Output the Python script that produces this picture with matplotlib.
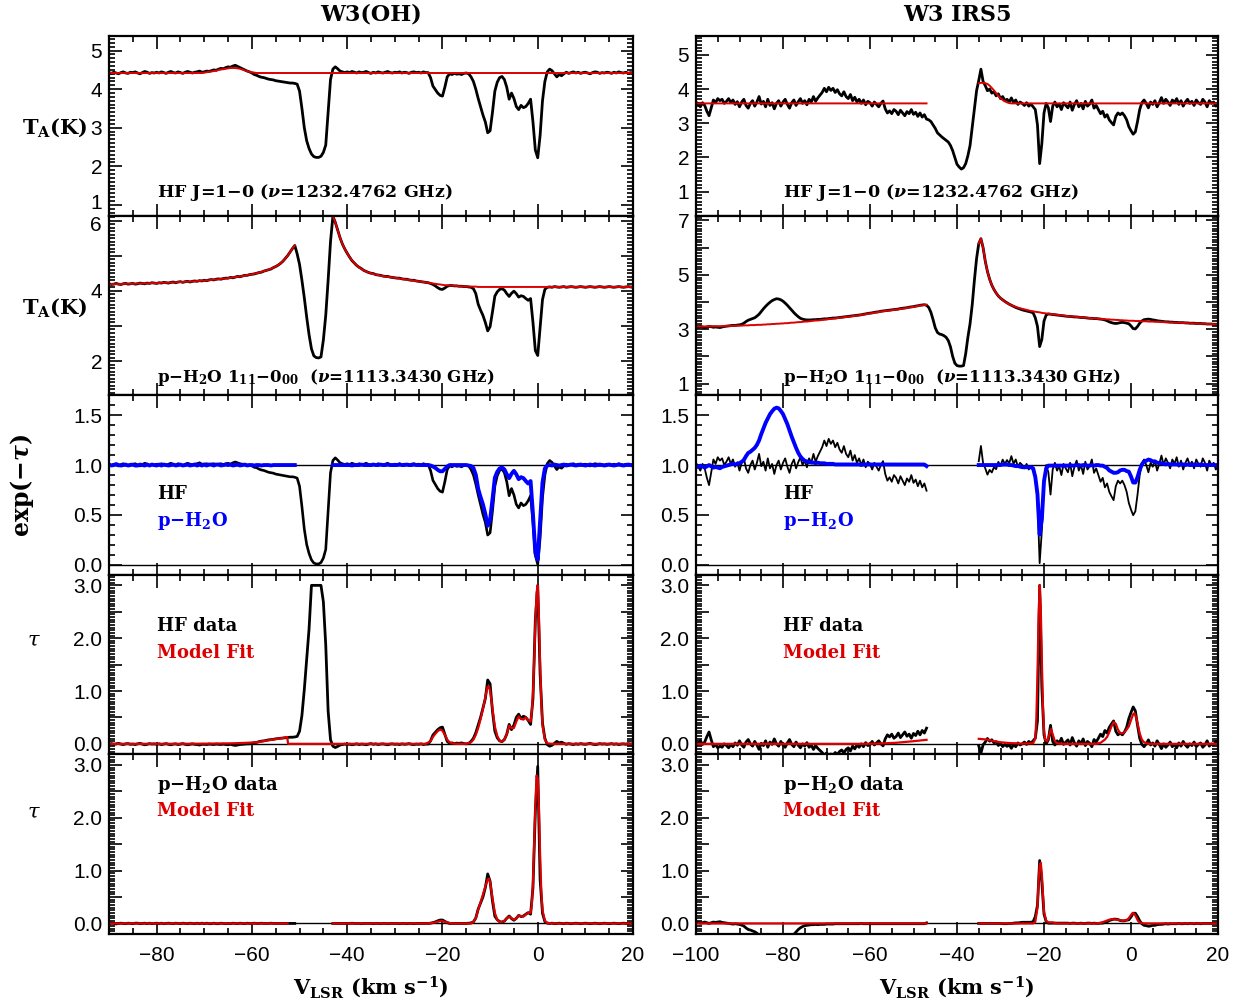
import numpy as np
import matplotlib
matplotlib.use("Agg")
import matplotlib.pyplot as plt
import matplotlib.transforms as mtrans
from matplotlib.ticker import MultipleLocator, FixedLocator, FuncFormatter

plt.rcParams['font.family'] = ['Liberation Sans', 'DejaVu Sans']
plt.rcParams['mathtext.fontset'] = 'custom'
plt.rcParams['mathtext.rm'] = 'DejaVu Serif:bold'
plt.rcParams['mathtext.it'] = 'DejaVu Serif:italic:bold'
plt.rcParams['mathtext.bf'] = 'DejaVu Serif:bold'

# ---------------------------------------------------------------- channels
V_W3OH = np.arange(-90.0, 20.01, 0.5)    # 221 channels, km/s
V_IRS5 = np.arange(-100.0, 20.01, 0.5)   # 241 channels, km/s
nan = np.nan

# ---------------------------------------------------------------- W3(OH)
# HF J=1-0 antenna temperature (K)
HF_W3OH = [
    4.43, 4.41, 4.44, 4.42, 4.40, 4.43, 4.45, 4.42, 4.41, 4.44,
    4.43, 4.45, 4.42, 4.40, 4.43, 4.46, 4.44, 4.41, 4.43, 4.42,
    4.44, 4.42, 4.45, 4.43, 4.41, 4.44, 4.46, 4.43, 4.42, 4.45,
    4.43, 4.41, 4.44, 4.46, 4.44, 4.42, 4.44, 4.45, 4.47, 4.44,
    4.45, 4.47, 4.46, 4.48, 4.50, 4.49, 4.52, 4.54, 4.53, 4.56,
    4.58, 4.57, 4.60, 4.62, 4.59, 4.56, 4.53, 4.50, 4.47, 4.45,
    4.42, 4.38, 4.36, 4.33, 4.31, 4.30, 4.28, 4.26, 4.25, 4.24,
    4.22, 4.21, 4.20, 4.19, 4.18, 4.17, 4.16, 4.16, 4.15, 4.13,
    3.95, 3.50, 3.00, 2.66, 2.46, 2.32, 2.25, 2.23, 2.23, 2.26,
    2.36, 2.55, 3.40, 4.25, 4.52, 4.58, 4.53, 4.47, 4.45, 4.43,
    4.45, 4.43, 4.46, 4.44, 4.42, 4.45, 4.43, 4.44, 4.46, 4.43,
    4.41, 4.44, 4.42, 4.45, 4.43, 4.42, 4.44, 4.46, 4.43, 4.42,
    4.44, 4.43, 4.45, 4.42, 4.44, 4.43, 4.41, 4.44, 4.45, 4.43,
    4.44, 4.42, 4.45, 4.43, 4.43, 4.30, 4.08, 3.99, 3.90, 3.84,
    3.82, 4.05, 4.32, 4.40, 4.38, 4.41, 4.39, 4.40, 4.38, 4.41,
    4.42, 4.40, 4.32, 4.20, 4.00, 3.76, 3.55, 3.33, 3.15, 2.87,
    2.92, 3.40, 3.95, 4.18, 4.30, 4.33, 4.25, 4.05, 3.74, 3.90,
    3.76, 3.55, 3.47, 3.58, 3.52, 3.55, 3.63, 3.74, 3.15, 2.42,
    2.22, 2.80, 3.70, 4.20, 4.45, 4.52, 4.48, 4.40, 4.32, 4.38,
    4.35, 4.40, 4.44, 4.41, 4.43, 4.45, 4.42, 4.44, 4.41, 4.43,
    4.44, 4.42, 4.40, 4.43, 4.45, 4.44, 4.41, 4.43, 4.42, 4.44,
    4.43, 4.41, 4.44, 4.42, 4.45, 4.43, 4.42, 4.44, 4.41, 4.43, 4.42,
]
# HF continuum fit (K)
HF_CONT_W3OH = (
    [4.42] * 40
    + [4.43, 4.44, 4.45, 4.46, 4.47, 4.48, 4.50, 4.51, 4.52, 4.53,
       4.54, 4.55, 4.55, 4.55, 4.54, 4.53, 4.51, 4.49, 4.47, 4.45,
       4.44, 4.43]
    + [4.42] * 159
)
# p-H2O 1_11-0_00 antenna temperature (K)
H2O_W3OH = [
    4.20, 4.18, 4.19, 4.21, 4.19, 4.18, 4.20, 4.21, 4.19, 4.20,
    4.21, 4.19, 4.20, 4.22, 4.21, 4.20, 4.22, 4.21, 4.23, 4.22,
    4.21, 4.23, 4.22, 4.24, 4.23, 4.22, 4.24, 4.25, 4.23, 4.25,
    4.26, 4.24, 4.26, 4.27, 4.25, 4.27, 4.28, 4.27, 4.29, 4.28,
    4.30, 4.29, 4.31, 4.32, 4.31, 4.33, 4.34, 4.33, 4.35, 4.36,
    4.36, 4.38, 4.37, 4.39, 4.41, 4.40, 4.42, 4.44, 4.44, 4.46,
    4.47, 4.48, 4.50, 4.52, 4.53, 4.56, 4.58, 4.60, 4.62, 4.66,
    4.69, 4.73, 4.78, 4.84, 4.92, 5.00, 5.10, 5.20, 5.29, 5.05,
    4.75, 4.30, 3.80, 3.25, 2.75, 2.35, 2.15, 2.10, 2.09, 2.12,
    2.60, 3.30, 4.30, 5.40, 6.12, 5.95, 5.73, 5.51, 5.33, 5.19,
    5.07, 4.96, 4.86, 4.79, 4.72, 4.67, 4.63, 4.58, 4.55, 4.52,
    4.50, 4.49, 4.46, 4.45, 4.44, 4.42, 4.41, 4.41, 4.39, 4.38,
    4.37, 4.36, 4.36, 4.34, 4.33, 4.33, 4.31, 4.30, 4.30, 4.28,
    4.27, 4.26, 4.25, 4.24, 4.23, 4.21, 4.18, 4.14, 4.09, 4.05,
    4.04, 4.08, 4.13, 4.15, 4.15, 4.14, 4.14, 4.13, 4.13, 4.12,
    4.12, 4.11, 4.10, 4.06, 3.92, 3.62, 3.45, 3.30, 3.10, 2.86,
    2.98, 3.40, 3.85, 3.97, 4.04, 4.06, 4.02, 3.92, 3.84, 3.93,
    3.99, 3.92, 3.82, 3.86, 3.84, 3.78, 3.73, 3.78, 3.10, 2.30,
    2.16, 2.95, 3.75, 4.04, 4.10, 4.11, 4.10, 4.12, 4.11, 4.10,
    4.11, 4.12, 4.10, 4.11, 4.12, 4.11, 4.10, 4.11, 4.12, 4.11,
    4.10, 4.11, 4.12, 4.11, 4.10, 4.11, 4.12, 4.11, 4.10, 4.11,
    4.12, 4.11, 4.10, 4.11, 4.12, 4.11, 4.10, 4.11, 4.12, 4.11, 4.10,
]
# p-H2O continuum + emission fit (K); undefined across the deep absorption
H2O_CONT_W3OH = (
    [4.19, 4.19, 4.19, 4.19, 4.19, 4.19, 4.20, 4.20, 4.20, 4.20,
     4.20, 4.20, 4.21, 4.21, 4.21, 4.21, 4.21, 4.22, 4.22, 4.22,
     4.22, 4.22, 4.23, 4.23, 4.23, 4.23, 4.24, 4.24, 4.24, 4.25,
     4.25, 4.25, 4.26, 4.26, 4.26, 4.27, 4.27, 4.28, 4.28, 4.29,
     4.29, 4.30, 4.30, 4.31, 4.32, 4.32, 4.33, 4.34, 4.35, 4.35,
     4.36, 4.37, 4.38, 4.39, 4.40, 4.41, 4.42, 4.43, 4.45, 4.46,
     4.47, 4.49, 4.50, 4.52, 4.54, 4.56, 4.58, 4.60, 4.63, 4.66,
     4.69, 4.73, 4.78, 4.84, 4.92, 5.00, 5.10, 5.20, 5.29, nan]
    + [nan] * 14
    + [6.12, 5.95, 5.73, 5.51, 5.33, 5.19,
       5.07, 4.96, 4.87, 4.79, 4.72, 4.67, 4.62, 4.58, 4.55, 4.52,
       4.50, 4.48, 4.46, 4.45, 4.43, 4.42, 4.41, 4.40, 4.39, 4.38,
       4.37, 4.36, 4.35, 4.34, 4.33, 4.32, 4.31, 4.30, 4.29, 4.28,
       4.27, 4.26, 4.25, 4.24, 4.23, 4.22, 4.21, 4.20, 4.19, 4.18,
       4.17, 4.16, 4.16, 4.15, 4.15, 4.14, 4.14, 4.13, 4.13, 4.12,
       4.12, 4.12, 4.12, 4.12, 4.12, 4.11, 4.11, 4.11, 4.11, 4.11]
    + [4.11] * 61
)
# optical-depth model fits
HF_FIT_V_W3OH = [-90, -75, -68, -64, -61, -59, -57, -55, -53.5, -52.6, -52.4,
                 -43, -30, -23.5, -22.5, -22, -21.5, -21, -20.5, -20, -19.5,
                 -19, -18.5, -18, -17, -15, -14, -13.5, -13, -12.5, -12, -11.5,
                 -11, -10.75, -10.5, -10.25, -10, -9.75, -9.5, -9, -8.5, -8,
                 -7.5, -7, -6.5, -6, -5.5, -5, -4.5, -4, -3.5, -3, -2.5, -2,
                 -1.5, -1.25, -1, -0.75, -0.5, -0.25, 0, 0.25, 0.5, 0.75, 1,
                 1.5, 2, 3, 20]
HF_FIT_TAU_W3OH = [0, 0, 0.005, 0.01, 0.02, 0.03, 0.06, 0.09, 0.11, 0.13, 0,
                   0, 0, 0, 0.05, 0.13, 0.19, 0.24, 0.27, 0.25, 0.17,
                   0.08, 0.03, 0.01, 0, 0, 0.03, 0.08, 0.17, 0.30, 0.47, 0.66,
                   0.88, 1.00, 1.08, 1.09, 1.00, 0.85, 0.66, 0.33, 0.15, 0.06,
                   0.04, 0.08, 0.18, 0.34, 0.30, 0.30, 0.42, 0.52, 0.47, 0.46,
                   0.50, 0.45, 0.42, 0.60, 0.95, 1.55, 2.30, 2.85, 3.00, 2.40,
                   1.50, 0.80, 0.35, 0.08, 0.01, 0, 0]
H2O_FIT_V_W3OH = [-90, -52.5, nan, -43, -23, -21.5, -20.3, -19, -18, -14,
                  -13.5, -13, -12.5, -12, -11.5, -11, -10.5, -10.25, -10,
                  -9.5, -9, -8.5, -8, -7.5, -7, -6.5, -6, -5.5, -5, -4.5, -4,
                  -3.5, -3, -2.5, -2, -1.5, -1.25, -1, -0.75, -0.5, -0.25, 0,
                  0.25, 0.5, 0.75, 1, 1.5, 2, 3, 20]
H2O_FIT_TAU_W3OH = [0, 0, nan, 0, 0, 0.02, 0.05, 0.02, 0, 0,
                    0.03, 0.10, 0.26, 0.40, 0.55, 0.70, 0.83, 0.85, 0.78,
                    0.48, 0.20, 0.07, 0.03, 0.03, 0.05, 0.10, 0.13, 0.10,
                    0.07, 0.10, 0.15, 0.14, 0.13, 0.17, 0.20, 0.20, 0.35,
                    0.75, 1.50, 2.20, 2.80, 2.75, 2.20, 1.30, 0.60, 0.25,
                    0.05, 0.01, 0, 0]

# ---------------------------------------------------------------- W3 IRS5
HF_IRS5 = [
    3.62, 3.55, 3.48, 3.60, 3.52, 3.35, 3.22, 3.45, 3.68, 3.60,
    3.72, 3.66, 3.70, 3.58, 3.64, 3.72, 3.60, 3.68, 3.55, 3.63,
    3.48, 3.62, 3.70, 3.52, 3.44, 3.58, 3.66, 3.50, 3.62, 3.78,
    3.56, 3.64, 3.48, 3.70, 3.52, 3.60, 3.42, 3.58, 3.66, 3.50,
    3.62, 3.70, 3.55, 3.44, 3.60, 3.68, 3.52, 3.63, 3.72, 3.58,
    3.66, 3.54, 3.70, 3.62, 3.78, 3.64, 3.74, 3.82, 3.90, 4.02,
    3.92, 4.05, 3.96, 4.02, 3.90, 3.98, 3.86, 3.80, 3.92, 3.78,
    3.72, 3.84, 3.66, 3.76, 3.62, 3.70, 3.58, 3.68, 3.54, 3.64,
    3.60, 3.50, 3.62, 3.55, 3.48, 3.58, 3.65, 3.42, 3.30, 3.36,
    3.28, 3.40, 3.35, 3.25, 3.38, 3.30, 3.22, 3.34, 3.28, 3.40,
    3.26, 3.32, 3.20, 3.30, 3.18, 3.25, 3.12, 3.10, 3.05, 2.95,
    2.85, 2.72, 2.66, 2.60, 2.55, 2.50, 2.45, 2.35, 2.20, 2.00,
    1.80, 1.72, 1.66, 1.70, 1.82, 2.05, 2.35, 2.88, 3.40, 3.95,
    4.25, 4.58, 4.22, 4.10, 3.95, 4.00, 3.88, 3.92, 3.80, 3.86,
    3.72, 3.78, 3.66, 3.70, 3.62, 3.74, 3.60, 3.68, 3.55, 3.62,
    3.58, 3.52, 3.60, 3.50, 3.56, 3.48, 3.40, 2.95, 1.82, 2.40,
    3.30, 3.58, 3.45, 3.05, 3.50, 3.62, 3.48, 3.56, 3.40, 3.60,
    3.52, 3.45, 3.62, 3.38, 3.55, 3.66, 3.48, 3.58, 3.42, 3.64,
    3.50, 3.56, 3.68, 3.44, 3.52, 3.40, 3.28, 3.35, 3.18, 3.25,
    3.10, 3.02, 2.95, 3.20, 3.30, 3.25, 3.30, 3.22, 3.10, 2.90,
    2.78, 2.68, 2.75, 3.05, 3.40, 3.60, 3.68, 3.58, 3.45, 3.62,
    3.55, 3.66, 3.48, 3.60, 3.75, 3.58, 3.70, 3.62, 3.52, 3.68,
    3.60, 3.72, 3.55, 3.66, 3.50, 3.62, 3.70, 3.58, 3.64, 3.52,
    3.68, 3.60, 3.55, 3.70, 3.62, 3.48, 3.66, 3.58, 3.62, 3.50, 3.56,
]
HF_CONT_IRS5 = (
    [3.58] * 107
    + [nan] * 23
    + [4.17, 4.18, 4.18, 4.17, 4.15, 4.10, 4.03, 3.96, 3.88, 3.80,
       3.73, 3.68, 3.64, 3.61, 3.59]
    + [3.58] * 96
)
H2O_IRS5 = [
    3.08, 3.07, 3.09, 3.08, 3.06, 3.08, 3.10, 3.09, 3.07, 3.08,
    3.07, 3.06, 3.08, 3.10, 3.11, 3.12, 3.13, 3.14, 3.14, 3.15,
    3.16, 3.18, 3.22, 3.28, 3.33, 3.36, 3.39, 3.42, 3.48, 3.55,
    3.65, 3.75, 3.84, 3.92, 3.99, 4.05, 4.09, 4.12, 4.11, 4.08,
    4.03, 3.96, 3.88, 3.79, 3.70, 3.61, 3.53, 3.46, 3.40, 3.37,
    3.35, 3.34, 3.34, 3.34, 3.35, 3.35, 3.36, 3.36, 3.37, 3.38,
    3.38, 3.39, 3.40, 3.41, 3.41, 3.42, 3.43, 3.44, 3.45, 3.46,
    3.47, 3.48, 3.49, 3.50, 3.51, 3.52, 3.53, 3.55, 3.56, 3.58,
    3.59, 3.60, 3.62, 3.63, 3.64, 3.66, 3.67, 3.68, 3.69, 3.70,
    3.71, 3.72, 3.73, 3.74, 3.76, 3.77, 3.78, 3.79, 3.81, 3.82,
    3.83, 3.85, 3.86, 3.88, 3.89, 3.90, 3.88, 3.80, 3.62, 3.35,
    3.05, 2.88, 2.82, 2.80, 2.76, 2.70, 2.58, 2.35, 2.00, 1.75,
    1.66, 1.64, 1.64, 1.66, 2.10, 2.70, 3.20, 3.90, 4.80, 5.60,
    6.15, 6.33, 6.00, 5.50, 5.12, 4.84, 4.62, 4.46, 4.33, 4.22,
    4.14, 4.08, 4.02, 3.97, 3.92, 3.88, 3.84, 3.80, 3.77, 3.74,
    3.71, 3.69, 3.67, 3.65, 3.63, 3.60, 3.42, 3.10, 2.36, 2.62,
    3.30, 3.52, 3.56, 3.55, 3.54, 3.53, 3.52, 3.51, 3.50, 3.49,
    3.48, 3.47, 3.47, 3.46, 3.45, 3.45, 3.44, 3.43, 3.43, 3.42,
    3.41, 3.40, 3.40, 3.39, 3.39, 3.38, 3.37, 3.36, 3.34, 3.31,
    3.27, 3.24, 3.22, 3.21, 3.22, 3.24, 3.25, 3.24, 3.22, 3.20,
    3.12, 3.02, 3.01, 3.10, 3.22, 3.30, 3.35, 3.36, 3.37, 3.36,
    3.34, 3.33, 3.31, 3.30, 3.29, 3.28, 3.27, 3.27, 3.26, 3.26,
    3.25, 3.25, 3.24, 3.24, 3.24, 3.23, 3.23, 3.22, 3.22, 3.22,
    3.21, 3.21, 3.21, 3.20, 3.20, 3.19, 3.19, 3.19, 3.18, 3.18, 3.18,
]
H2O_CONT_IRS5 = (
    [3.10, 3.10, 3.10, 3.10, 3.10, 3.10, 3.10, 3.11, 3.11, 3.11,
     3.11, 3.11, 3.11, 3.12, 3.12, 3.12, 3.12, 3.12, 3.13, 3.13,
     3.13, 3.13, 3.14, 3.14, 3.14, 3.15, 3.15, 3.15, 3.16, 3.16,
     3.16, 3.17, 3.17, 3.18, 3.18, 3.19, 3.19, 3.20, 3.20, 3.21,
     3.21, 3.22, 3.22, 3.23, 3.24, 3.24, 3.25, 3.26, 3.26, 3.27,
     3.28, 3.28, 3.29, 3.30, 3.31, 3.32, 3.32, 3.33, 3.34, 3.35,
     3.36, 3.37, 3.38, 3.39, 3.40, 3.41, 3.42, 3.43, 3.44, 3.45,
     3.46, 3.47, 3.48, 3.49, 3.50, 3.51, 3.53, 3.54, 3.55, 3.57,
     3.58, 3.59, 3.61, 3.62, 3.63, 3.65, 3.66, 3.67, 3.68, 3.69,
     3.70, 3.71, 3.72, 3.73, 3.75, 3.76, 3.77, 3.78, 3.80, 3.81,
     3.82, 3.84, 3.85, 3.87, 3.88, 3.89, 3.90]
    + [nan] * 23
    + [6.15, 6.33, 6.00, 5.50, 5.12, 4.84, 4.62, 4.46, 4.33, 4.22,
       4.14, 4.07, 4.01, 3.96, 3.92, 3.88, 3.85, 3.82, 3.79, 3.77,
       3.75, 3.73, 3.71, 3.69, 3.67, 3.66, 3.64, 3.63, 3.62, 3.60,
       3.59, 3.58, 3.57, 3.56, 3.55, 3.54, 3.53, 3.52, 3.51, 3.50,
       3.49, 3.48, 3.47, 3.47, 3.46, 3.45, 3.44, 3.44, 3.43, 3.42,
       3.42, 3.41, 3.40, 3.40, 3.39, 3.38, 3.38, 3.37, 3.37, 3.36,
       3.36, 3.35, 3.35, 3.34, 3.34, 3.33, 3.33, 3.32, 3.32, 3.31,
       3.31, 3.31, 3.30, 3.30, 3.30, 3.29, 3.29, 3.29, 3.28, 3.28,
       3.28, 3.27, 3.27, 3.27, 3.26, 3.26, 3.26, 3.25, 3.25, 3.25,
       3.24, 3.24, 3.24, 3.23, 3.23, 3.23, 3.22, 3.22, 3.22, 3.21,
       3.21, 3.21, 3.20, 3.20, 3.20, 3.19, 3.19, 3.19, 3.18, 3.18, 3.18]
)
HF_FIT_V_IRS5 = [-100, -62, -58, -54, -50, -47, nan, -35, -33, -31.5, -30,
                 -28, -25, -22.5, -22, -21.75, -21.5, -21.25, -21, -20.75,
                 -20.5, -20.25, -20, -19.75, -19.25, -18.75, -18.4, -18,
                 -17.5, -17, -16, -8, -7, -6, -5.5, -5, -4.5, -4, -3.5, -3,
                 -2.5, -2, -1.5, -1, -0.5, 0, 0.5, 0.8, 1.2, 1.6, 2, 2.5, 3,
                 4, 20]
HF_FIT_TAU_IRS5 = [0, 0, 0.005, 0.02, 0.05, 0.076, nan, 0.095, 0.08, 0.05,
                   0.03, 0.015, 0.005, 0.01, 0.10, 0.50, 1.30, 2.40, 3.00,
                   2.60, 1.60, 0.70, 0.25, 0.08, 0.05, 0.18, 0.28, 0.18,
                   0.05, 0.01, 0, 0, 0.02, 0.08, 0.13, 0.22, 0.33, 0.41,
                   0.38, 0.27, 0.20, 0.20, 0.22, 0.27, 0.33, 0.45, 0.56,
                   0.58, 0.50, 0.35, 0.20, 0.08, 0.03, 0, 0]
H2O_FIT_V_IRS5 = [-100, -47, nan, -35, -22.5, -22, -21.5, -21.25, -21,
                  -20.75, -20.5, -20.25, -20, -19.5, -19, -18, -17, -8, -7,
                  -6, -5, -4.5, -4, -3, -2, -1, -0.5, 0, 0.4, 0.8, 1.2, 1.6,
                  2, 3, 20]
H2O_FIT_TAU_IRS5 = [0, 0, nan, 0, 0, 0.03, 0.30, 0.80, 1.10,
                    1.15, 0.95, 0.55, 0.22, 0.05, 0.02, 0.02, 0, 0, 0.01,
                    0.04, 0.07, 0.08, 0.08, 0.07, 0.05, 0.06, 0.10, 0.16,
                    0.20, 0.18, 0.12, 0.05, 0.02, 0, 0]


# ---------------------------------------------------------------- derived
def transmission(t_a, t_c):
    """exp(-tau) for a DSB continuum: half the continuum is in the signal band."""
    return 2.0 * np.asarray(t_a) / np.asarray(t_c) - 1.0


def optical_depth(trans):
    """tau, saturated at 3 where the line is black."""
    return -np.log(np.clip(trans, np.exp(-3.0), None))


RED = '#dd0000'
BLUE = '#0000ff'
SERIF = 'DejaVu Serif'

fig = plt.figure(figsize=(12.48, 10.02), dpi=100)

COLS = [dict(x0=109 / 1248, w=524 / 1248, xlim=(-90, 20), v=V_W3OH,
             hf=HF_W3OH, hfc=HF_CONT_W3OH, h2o=H2O_W3OH, h2oc=H2O_CONT_W3OH,
             hffv=HF_FIT_V_W3OH, hfft=HF_FIT_TAU_W3OH,
             wfv=H2O_FIT_V_W3OH, wft=H2O_FIT_TAU_W3OH,
             ylim1=(0.72, 5.38), ylim2=(1.03, 6.14),
             major2=[2, 3, 4, 5, 6], ticks2=[2, 4, 6],
             title='W3(OH)', hf_lw=1.9),
        dict(x0=696 / 1248, w=522 / 1248, xlim=(-100, 20), v=V_IRS5,
             hf=HF_IRS5, hfc=HF_CONT_IRS5, h2o=H2O_IRS5, h2oc=H2O_CONT_IRS5,
             hffv=HF_FIT_V_IRS5, hfft=HF_FIT_TAU_IRS5,
             wfv=H2O_FIT_V_IRS5, wft=H2O_FIT_TAU_IRS5,
             ylim1=(0.30, 5.55), ylim2=(0.57, 7.18),
             major2=[1, 2, 3, 4, 5, 6, 7], ticks2=[1, 3, 5, 7],
             title='W3 IRS5', hf_lw=1.3)]

TOP = 1 - 36 / 1002
H = 179.6 / 1002

xfmt = FuncFormatter(lambda v, p: f'{v:.0f}'.replace('-', '\u2212'))


def style(ax, xlim, ylim, major, minor, fmt, bottom):
    ax.set_xlim(*xlim)
    ax.set_ylim(*ylim)
    ax.xaxis.set_major_locator(MultipleLocator(20))
    ax.xaxis.set_minor_locator(MultipleLocator(5))
    ax.yaxis.set_major_locator(FixedLocator(major))
    ax.yaxis.set_minor_locator(MultipleLocator(minor))
    ax.yaxis.set_major_formatter(FuncFormatter(fmt))
    ax.xaxis.set_major_formatter(xfmt)
    ax.tick_params(which='both', direction='in', top=True, right=True,
                   width=1.2, labelsize=15)
    ax.tick_params(which='major', length=9)
    ax.tick_params(which='minor', length=4.5)
    ax.tick_params(axis='y', pad=5)
    ax.tick_params(axis='x', pad=9, labelbottom=bottom)
    for s in ax.spines.values():
        s.set_linewidth(1.6)


def nudge_ylabel(ax, index, dy_pts):
    """Shift one y tick label vertically by dy_pts points."""
    ticks = ax.yaxis.get_major_ticks()
    lab = ticks[index].label1
    lab.set_transform(lab.get_transform()
                      + mtrans.ScaledTranslation(0, dy_pts / 72, fig.dpi_scale_trans))


def label(ax, x, y, s, color='k', size=12.5):
    ax.text(x, y, s, transform=ax.transAxes, color=color, fontsize=size,
            family=SERIF, weight='bold', ha='left', va='center')


for c in COLS:
    v = c['v']
    hf = np.array(c['hf'])
    hfc = np.array(c['hfc'])
    h2o = np.array(c['h2o'])
    h2oc = np.array(c['h2oc'])
    t_hf = transmission(hf, hfc)
    t_w = transmission(h2o, h2oc)
    axs = [fig.add_axes([c['x0'], TOP - (r + 1) * H, c['w'], H]) for r in range(5)]
    right = c is COLS[1]
    tx = 0.167 if right else 0.092

    # HF spectrum
    ax = axs[0]
    ax.plot(v, hf, color='k', lw=2.0)
    ax.plot(v, hfc, color=RED, lw=1.4)
    style(ax, c['xlim'], c['ylim1'], [1, 2, 3, 4, 5], 0.1,
          lambda y, p: f'{y:.0f}', False)
    label(ax, tx, 0.126, r'HF J=1−0 ($\nu$=1232.4762 GHz)')
    if not right:
        nudge_ylabel(ax, 0, 2.5)

    # p-H2O spectrum
    ax = axs[1]
    ax.plot(v, h2o, color='k', lw=2.0)
    ax.plot(v, h2oc, color=RED, lw=1.4)
    style(ax, c['xlim'], c['ylim2'], c['major2'], 0.1,
          lambda y, p, t=c['ticks2']: f'{y:.0f}' if round(y) in t else '', False)
    label(ax, tx, 0.096,
          r'p−$\mathrm{H_2O}$ $\mathrm{1_{11}}$−$\mathrm{0_{00}}$  ($\nu$=1113.3430 GHz)',
          size=12)
    if not right:
        nudge_ylabel(ax, len(c['major2']) - 1, -2.5)

    # transmission
    ax = axs[2]
    ax.axhline(1.0, color='k', lw=1.0)
    ax.axhline(0.0, color='k', lw=1.0)
    ax.plot(v, t_hf, color='k', lw=c['hf_lw'])
    ax.plot(v, t_w, color=BLUE, lw=2.8)
    style(ax, c['xlim'], (-0.1, 1.7), [0, 0.5, 1.0, 1.5], 0.1,
          lambda y, p: f'{y:.1f}', False)
    label(ax, tx, 0.45, 'HF', size=13)
    label(ax, tx, 0.30, r'p−$\mathrm{H_2O}$', color=BLUE, size=13)

    # HF optical depth
    ax = axs[3]
    ax.axhline(0.0, color='k', lw=1.0)
    ax.plot(v, optical_depth(t_hf), color='k', lw=2.0)
    ax.plot(c['hffv'], c['hfft'], color=RED, lw=1.6)
    tau_fmt = lambda y, p: f'{y:.1f}' if abs(y - round(y)) < 1e-6 else ''
    style(ax, c['xlim'], (-0.2, 3.2), [0, 0.5, 1, 1.5, 2, 2.5, 3], 0.05,
          tau_fmt, False)
    label(ax, tx, 0.715, 'HF data', size=13)
    label(ax, tx, 0.565, 'Model Fit', color=RED, size=13)

    # p-H2O optical depth
    ax = axs[4]
    ax.axhline(0.0, color='k', lw=1.0)
    ax.plot(v, optical_depth(t_w), color='k', lw=2.0)
    ax.plot(c['wfv'], c['wft'], color=RED, lw=1.6)
    style(ax, c['xlim'], (-0.2, 3.2), [0, 0.5, 1, 1.5, 2, 2.5, 3], 0.05,
          tau_fmt, True)
    label(ax, tx, 0.83, r'p−$\mathrm{H_2O}$ data', size=13)
    label(ax, tx, 0.685, 'Model Fit', color=RED, size=13)

    xc = c['x0'] + c['w'] / 2
    fig.text(xc, 1 - 15 / 1002, c['title'], ha='center', va='center',
             family=SERIF, weight='bold', fontsize=16)
    fig.text(xc, 1 - 987 / 1002, r'$\mathrm{V_{LSR}}$ (km $\mathrm{s^{-1}}$)',
             ha='center', va='center', family=SERIF, weight='bold', fontsize=15)

# axis titles on the left edge
fig.text(55 / 1248, 1 - 128 / 1002, r'$\mathrm{T_A}$(K)', ha='center',
         va='center', family=SERIF, weight='bold', fontsize=15)
fig.text(55 / 1248, 1 - 308 / 1002, r'$\mathrm{T_A}$(K)', ha='center',
         va='center', family=SERIF, weight='bold', fontsize=15)
fig.text(22 / 1248, 1 - 485 / 1002, r'exp($-\tau$)', ha='center', va='center',
         rotation=90, family=SERIF, weight='bold', fontsize=17)
fig.text(33 / 1248, 1 - 640 / 1002, 'τ', ha='center', va='center',
         family=SERIF, style='italic', fontsize=15)
fig.text(33 / 1248, 1 - 812 / 1002, 'τ', ha='center', va='center',
         family=SERIF, style='italic', fontsize=15)

fig.savefig('out.png', dpi=100)
